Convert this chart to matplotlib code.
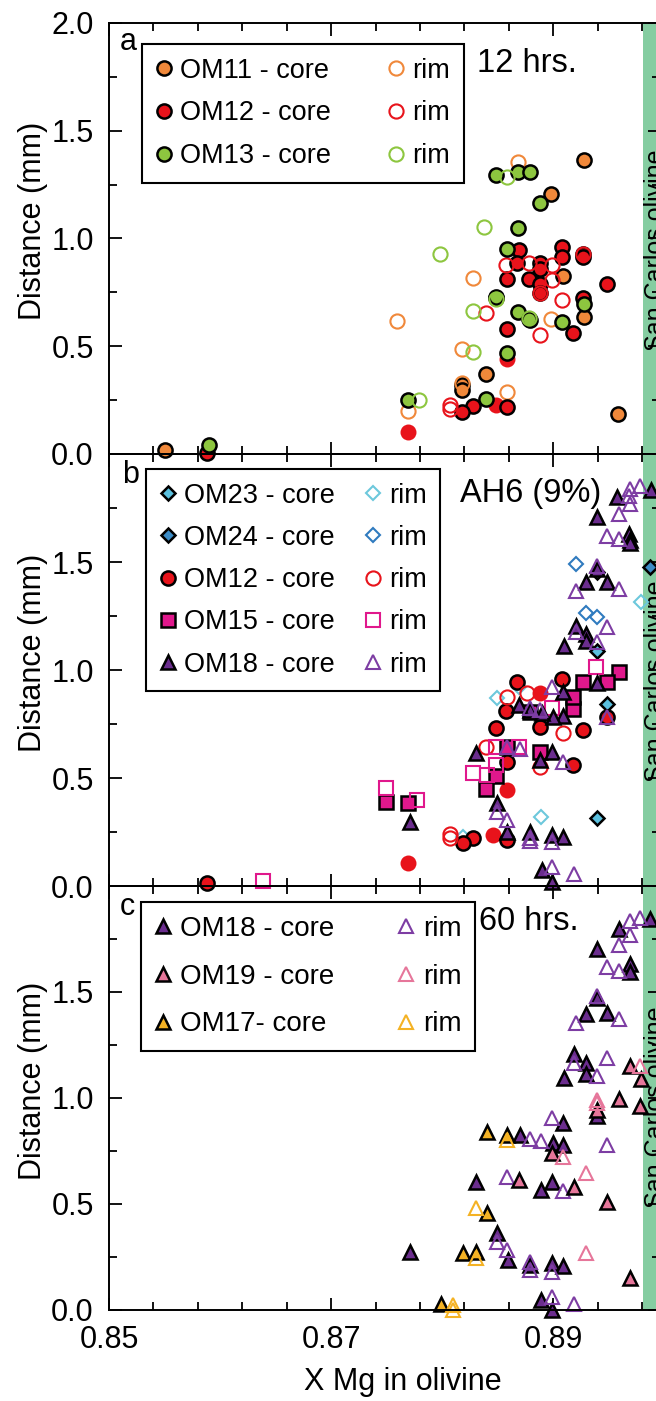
import matplotlib.pyplot as plt
from matplotlib.ticker import FixedLocator, MultipleLocator

plt.rcParams['font.family'] = ['Liberation Sans', 'DejaVu Sans']

# ---- panel a : 12 hrs ----
om11_core_x = [0.8550, 0.8928, 0.8898, 0.8958, 0.8839, 0.8818, 0.8818, 0.8909, 0.8928, 0.8879]
om11_core_y = [0.02, 1.365, 1.206, 0.184, 0.372, 0.32, 0.297, 0.824, 0.637, 0.622]
om11_rim_x = [0.8759, 0.8868, 0.8828, 0.8818, 0.8858, 0.8898, 0.8769, 0.8818]
om11_rim_y = [0.618, 1.355, 0.815, 0.486, 0.289, 0.625, 0.198, 0.328]

om12_core_x = [0.8869, 0.8908, 0.8908, 0.8927, 0.8927, 0.8867, 0.8888, 0.8888, 0.8858, 0.8878,
               0.8888, 0.8888, 0.8948, 0.8927, 0.8848, 0.8858, 0.8918, 0.8858, 0.8828, 0.8818, 0.8588]
om12_core_y = [0.947, 0.959, 0.913, 0.93, 0.915, 0.885, 0.885, 0.86, 0.812, 0.812,
               0.789, 0.746, 0.789, 0.722, 0.722, 0.579, 0.563, 0.217, 0.223, 0.196, 0.005]
om12_solid_x = [0.8769, 0.8858, 0.8848]
om12_solid_y = [0.103, 0.44, 0.227]
om12_rim_x = [0.8857, 0.8878, 0.8899, 0.8899, 0.8888, 0.8908, 0.8839, 0.8888, 0.8807, 0.8807, 0.8927]
om12_rim_y = [0.877, 0.885, 0.877, 0.807, 0.746, 0.715, 0.653, 0.552, 0.227, 0.21, 0.93]

om13_core_x = [0.8848, 0.8868, 0.8879, 0.8888, 0.8868, 0.8858, 0.8848, 0.8868, 0.8928, 0.8908,
               0.8878, 0.8858, 0.8839, 0.8769, 0.8590]
om13_core_y = [1.295, 1.31, 1.31, 1.166, 1.047, 0.95, 0.73, 0.66, 0.696, 0.614,
               0.625, 0.467, 0.255, 0.251, 0.042]
om13_rim_x = [0.8858, 0.8838, 0.8798, 0.8848, 0.8828, 0.8878, 0.8828, 0.8779]
om13_rim_y = [1.284, 1.055, 0.928, 0.718, 0.665, 0.63, 0.475, 0.251]

# ---- panel b : AH6 (9%) ----
om23_core_x = [0.8948, 0.8939, 0.8939]
om23_core_y = [0.841, 0.313, 1.09]
om23_rim_x = [0.8979, 0.8849, 0.8869, 0.8889, 0.8819]
om23_rim_y = [1.313, 0.869, 0.923, 0.318, 0.228]
om24_core_x = [0.8987, 0.8939]
om24_core_y = [1.476, 1.452]
om24_rim_x = [0.8920, 0.8929, 0.8939]
om24_rim_y = [1.491, 1.262, 1.247]

om12b_core_x = [0.8867, 0.8908, 0.8857, 0.8848, 0.8888, 0.8927, 0.8918, 0.8858, 0.8858, 0.8828,
                0.8819, 0.8948, 0.8588]
om12b_core_y = [0.946, 0.957, 0.81, 0.73, 0.738, 0.722, 0.56, 0.575, 0.213, 0.221,
                0.198, 0.784, 0.0125]
om12b_solid_x = [0.8888, 0.8858, 0.8846, 0.8769]
om12b_solid_y = [0.892, 0.444, 0.236, 0.105]
om12b_rim_x = [0.8807, 0.8807, 0.8839, 0.8909, 0.8888, 0.8858, 0.8876]
om12b_rim_y = [0.221, 0.24, 0.645, 0.707, 0.552, 0.876, 0.892]

om15_core_x = [0.8959, 0.8948, 0.8927, 0.8918, 0.8918, 0.8888, 0.8858, 0.8848, 0.8839, 0.8749,
               0.8769, 0.8879]
om15_core_y = [0.992, 0.946, 0.946, 0.818, 0.876, 0.622, 0.645, 0.509, 0.448, 0.39,
               0.383, 0.807]
om15_rim_x = [0.8938, 0.8749, 0.8777, 0.8828, 0.8848, 0.8848, 0.8869, 0.8899, 0.8639, 0.8840]
om15_rim_y = [1.015, 0.452, 0.398, 0.522, 0.56, 0.645, 0.645, 0.823, 0.025, 0.514]

om18b_core_x = [0.8957, 0.8939, 0.8968, 0.8969, 0.8969, 0.8988, 0.8939, 0.8929, 0.8948, 0.8920,
                0.8929, 0.8910, 0.8929, 0.8939, 0.8909, 0.8900, 0.8890, 0.8879, 0.8869, 0.8899,
                0.8888, 0.8830, 0.8771, 0.8849, 0.8858, 0.8879, 0.8899, 0.8909, 0.8890, 0.8899,
                0.8909]
om18b_core_y = [1.80, 1.707, 1.63, 1.60, 1.59, 1.833, 1.468, 1.406, 1.406, 1.205,
                1.167, 1.113, 1.136, 0.938, 0.787, 0.784, 0.80, 0.815, 0.838, 0.622,
                0.583, 0.614, 0.298, 0.383, 0.251, 0.251, 0.236, 0.228, 0.074, 0.02,
                0.90]
om18b_rim_x = [0.8978, 0.8969, 0.8968, 0.8969, 0.8959, 0.8948, 0.8959, 0.8939, 0.8920, 0.8959,
               0.8948, 0.8920, 0.8939, 0.8899, 0.8879, 0.8888, 0.8858, 0.8870, 0.8909, 0.8849,
               0.8858, 0.8879, 0.8879, 0.8899, 0.8899, 0.8919, 0.8948]
om18b_rim_y = [1.853, 1.838, 1.807, 1.768, 1.722, 1.622, 1.606, 1.483, 1.367, 1.375,
               1.198, 1.175, 1.128, 0.923, 0.823, 0.815, 0.645, 0.633, 0.575, 0.344,
               0.306, 0.221, 0.21, 0.205, 0.089, 0.056, 0.784]

# ---- panel c : 60 hrs ----
om18c_core_x = [0.8959, 0.8939, 0.8969, 0.8969, 0.8987, 0.8939, 0.8929, 0.8948, 0.8919, 0.8929,
                0.8910, 0.8929, 0.8939, 0.8909, 0.8900, 0.8909, 0.8870, 0.8899, 0.8889, 0.8830,
                0.8771, 0.8849, 0.8859, 0.8879, 0.8899, 0.8909, 0.8889, 0.8899]
om18c_core_y = [1.798, 1.704, 1.63, 1.594, 1.843, 1.473, 1.394, 1.402, 1.205, 1.166,
                1.095, 1.111, 0.914, 0.882, 0.785, 0.777, 0.824, 0.604, 0.564, 0.604,
                0.273, 0.36, 0.234, 0.21, 0.221, 0.205, 0.045, 0.0]
om18c_rim_x = [0.8978, 0.8969, 0.8969, 0.8959, 0.8948, 0.8959, 0.8939, 0.8920, 0.8959, 0.8948,
               0.8919, 0.8939, 0.8899, 0.8879, 0.8889, 0.8948, 0.8858, 0.8909, 0.8849, 0.8858,
               0.8879, 0.8879, 0.8899, 0.8899, 0.8919]
om18c_rim_y = [1.85, 1.835, 1.767, 1.72, 1.619, 1.599, 1.48, 1.354, 1.37, 1.189,
               1.166, 1.103, 0.903, 0.804, 0.796, 0.777, 0.624, 0.56, 0.32, 0.281,
               0.226, 0.187, 0.179, 0.06, 0.026]
om19_core_x = [0.8969, 0.8979, 0.8959, 0.8978, 0.8939, 0.8899, 0.8869, 0.8919, 0.8948, 0.8969]
om19_core_y = [1.15, 1.087, 0.993, 0.961, 0.942, 0.738, 0.612, 0.577, 0.509, 0.147]
om19_rim_x = [0.8978, 0.8939, 0.8939, 0.8909, 0.8929, 0.8929]
om19_rim_y = [1.15, 0.974, 0.99, 0.722, 0.646, 0.268]
om17_core_x = [0.8840, 0.8858, 0.8840, 0.8819, 0.8830, 0.8799]
om17_core_y = [0.84, 0.824, 0.457, 0.268, 0.273, 0.026]
om17_rim_x = [0.8830, 0.8830, 0.8810, 0.8810, 0.8858]
om17_rim_y = [0.481, 0.242, 0.021, 0.0, 0.80]

ORANGE = '#F0883A'
RED = '#E8131B'
LIME = '#8DC63F'
CYAN = '#5BC0DE'
BLUE = '#3C8CC6'
MAGENTA = '#E0188C'
PURPLE = '#6B2D8E'
PURPLE_RIM = '#7D3DA3'
PINK = '#E6769A'
GOLD = '#F4B224'
BAND = '#85CDA1'

SIZES = {'o': 10.2, '^': 10.5, 's': 9.5, 'D': 7.2}


def core(ax, x, y, marker, color, label):
    h, = ax.plot(x, y, ls='none', marker=marker, ms=SIZES[marker], mfc=color,
                 mec='black', mew=1.8, label=label, clip_on=False)
    return h


def rim(ax, x, y, marker, color):
    h, = ax.plot(x, y, ls='none', marker=marker, ms=SIZES[marker], mfc='none',
                 mec=color, mew=1.5, label='rim', clip_on=False)
    return h


def solid(ax, x, y, color):
    ax.plot(x, y, ls='none', marker='o', ms=11.5, mfc=color, mec=color, mew=0, clip_on=False)


def setup(ax, bottom_labels, ylabels):
    ax.set_facecolor('none')
    ax.set_xlim(0.85, 0.8996)
    ax.set_ylim(0, 2.0)
    ax.axvspan(0.8981, 0.91, color=BAND, lw=0, zorder=0)
    ax.text(0.89815, 0.48, 'San Carlos olivine', rotation=90, fontsize=18,
            ha='left', va='bottom', zorder=1)
    ax.xaxis.set_major_locator(FixedLocator([0.85, 0.87, 0.89]))
    ax.xaxis.set_minor_locator(FixedLocator([0.854, 0.858, 0.862, 0.866, 0.874, 0.878,
                                             0.882, 0.886, 0.894, 0.898]))
    ax.yaxis.set_major_locator(FixedLocator(ylabels))
    ax.yaxis.set_minor_locator(MultipleLocator(0.25))
    ax.tick_params(which='both', direction='in', top=True, right=True, width=1.3)
    ax.tick_params(which='major', length=9, labelsize=22, pad=11)
    ax.tick_params(which='minor', length=6)
    ax.tick_params(labelbottom=bottom_labels)
    for s in ax.spines.values():
        s.set_linewidth(1.4)
    ax.set_ylabel('Distance (mm)', fontsize=22)
    ax.yaxis.set_label_coords(-0.11, 0.54)


def legend(ax, cores, rims, x0, y0, fs, spacing, colgap):
    leg = ax.legend(cores + rims, [h.get_label() for h in cores + rims], ncol=2,
                    loc='upper left', bbox_to_anchor=(x0, y0), borderaxespad=0,
                    fontsize=fs, frameon=True, fancybox=False, edgecolor='black',
                    framealpha=1, handlelength=0.6, handletextpad=0.3,
                    columnspacing=colgap, labelspacing=spacing, borderpad=0.5)
    leg.get_frame().set_linewidth(1.5)
    leg.set_zorder(5)


fig = plt.figure(figsize=(6.56, 14.01), dpi=100)
L = 109 / 656
W = (660 - 109) / 656
ax_a = fig.add_axes([L, 1 - 454 / 1401, W, 431 / 1401])
ax_b = fig.add_axes([L, 1 - 886 / 1401, W, 432 / 1401])
ax_c = fig.add_axes([L, 1 - 1309.5 / 1401, W, 423.5 / 1401])

setup(ax_a, False, [0, 0.5, 1.0, 1.5, 2.0])
setup(ax_b, False, [0, 0.5, 1.0, 1.5])
setup(ax_c, True, [0, 0.5, 1.0, 1.5])

# panel a
c1 = core(ax_a, om11_core_x, om11_core_y, 'o', ORANGE, 'OM11 - core')
r1 = rim(ax_a, om11_rim_x, om11_rim_y, 'o', ORANGE)
solid(ax_a, om12_solid_x, om12_solid_y, RED)
c2 = core(ax_a, om12_core_x, om12_core_y, 'o', RED, 'OM12 - core')
r2 = rim(ax_a, om12_rim_x, om12_rim_y, 'o', RED)
c3 = core(ax_a, om13_core_x, om13_core_y, 'o', LIME, 'OM13 - core')
r3 = rim(ax_a, om13_rim_x, om13_rim_y, 'o', LIME)
legend(ax_a, [c1, c2, c3], [r1, r2, r3], 0.06, 0.951, 19.5, 0.62, 2.1)
ax_a.text(0.8510, 1.875, 'a', fontsize=22, ha='left', va='baseline')
ax_a.text(0.8831, 1.773, '12 hrs.', fontsize=23.5, ha='left', va='baseline')

# panel b
c1 = core(ax_b, om23_core_x, om23_core_y, 'D', CYAN, 'OM23 - core')
r1 = rim(ax_b, om23_rim_x, om23_rim_y, 'D', '#6CC8DC')
c2 = core(ax_b, om24_core_x, om24_core_y, 'D', BLUE, 'OM24 - core')
r2 = rim(ax_b, om24_rim_x, om24_rim_y, 'D', '#2F7BBF')
solid(ax_b, om12b_solid_x, om12b_solid_y, RED)
c3 = core(ax_b, om12b_core_x, om12b_core_y, 'o', RED, 'OM12 - core')
r3 = rim(ax_b, om12b_rim_x, om12b_rim_y, 'o', RED)
c4 = core(ax_b, om15_core_x, om15_core_y, 's', MAGENTA, 'OM15 - core')
r4 = rim(ax_b, om15_rim_x, om15_rim_y, 's', MAGENTA)
c5 = core(ax_b, om18b_core_x, om18b_core_y, '^', PURPLE, 'OM18 - core')
r5 = rim(ax_b, om18b_rim_x, om18b_rim_y, '^', PURPLE_RIM)
legend(ax_b, [c1, c2, c3, c4, c5], [r1, r2, r3, r4, r5], 0.067, 0.965, 19.5, 0.6, 1.1)
ax_b.text(0.8512, 1.866, 'b', fontsize=22, ha='left', va='baseline')
ax_b.text(0.8816, 1.778, 'AH6 (9%)', fontsize=23.5, ha='left', va='baseline')

# panel c
c1 = core(ax_c, om18c_core_x, om18c_core_y, '^', PURPLE, 'OM18 - core')
r1 = rim(ax_c, om18c_rim_x, om18c_rim_y, '^', PURPLE_RIM)
c2 = core(ax_c, om19_core_x, om19_core_y, '^', PINK, 'OM19 - core')
r2 = rim(ax_c, om19_rim_x, om19_rim_y, '^', PINK)
c3 = core(ax_c, om17_core_x, om17_core_y, '^', GOLD, 'OM17- core')
r3 = rim(ax_c, om17_rim_x, om17_rim_y, '^', GOLD)
legend(ax_c, [c1, c2, c3], [r1, r2, r3], 0.058, 0.962, 20, 0.78, 2.3)
ax_c.text(0.8510, 1.863, 'c', fontsize=22, ha='left', va='baseline')
ax_c.text(0.8833, 1.792, '60 hrs.', fontsize=23.5, ha='left', va='baseline')
ax_c.set_xlabel('X Mg in olivine', fontsize=22)
ax_c.xaxis.set_label_coords(0.534, -0.135)

fig.savefig('out.png', dpi=100)
